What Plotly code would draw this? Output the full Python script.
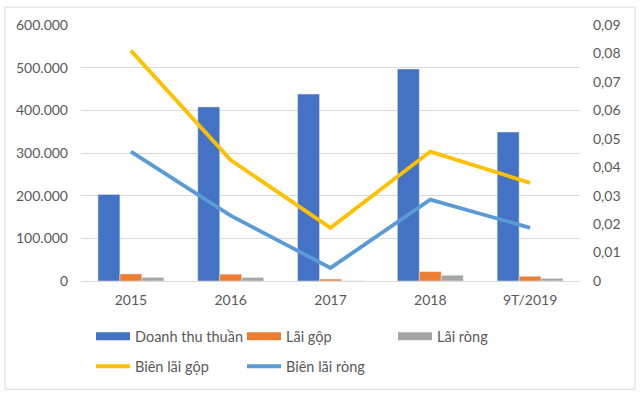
import plotly.graph_objects as go

categories = ["2015", "2016", "2017", "2018", "9T/2019"]
doanh_thu = [203000, 408000, 438000, 497000, 349000]
lai_gop = [16500, 16000, 4500, 22000, 11000]
lai_rong = [8500, 8000, 300, 13500, 6000]
bien_lai_gop = [0.0810, 0.0425, 0.0187, 0.0455, 0.0345]
bien_lai_rong = [0.0455, 0.0230, 0.0046, 0.0286, 0.0187]

left_ticks = [0, 100000, 200000, 300000, 400000, 500000, 600000]
right_ticks = [0, 0.01, 0.02, 0.03, 0.04, 0.05, 0.06, 0.07, 0.08, 0.09]
right_text = ["0", "0,01", "0,02", "0,03", "0,04", "0,05", "0,06", "0,07", "0,08", "0,09"]

bar_names = ["Doanh thu thuần", "Lãi gộp", "Lãi ròng"]
bar_colors = ["#4472C4", "#ED7D31", "#A5A5A5"]
line_names = ["Biên lãi gộp", "Biên lãi ròng"]
line_colors = ["#FFC000", "#5B9BD5"]

FONT = "Lato"
TXT = "#595959"

fig = go.Figure()
for name, vals, col in zip(bar_names, [doanh_thu, lai_gop, lai_rong], bar_colors):
    fig.add_bar(x=categories, y=vals, name=name, marker_color=col, showlegend=False)
# legend-only swatches for the bars (wide rectangles as in the original)
for name, col in zip(bar_names, bar_colors):
    fig.add_scatter(x=[None], y=[None], name=name, mode="lines",
                    line=dict(color=col, width=8), legend="legend")
for name, vals, col in zip(line_names, [bien_lai_gop, bien_lai_rong], line_colors):
    fig.add_scatter(x=categories, y=vals, name=name, mode="lines",
                    line=dict(color=col, width=3.8), yaxis="y2", legend="legend2")

L, R, T, B = 81, 60, 25, 112.5
W, H = 640, 394
pw = W - L - R
ph = H - T - B

def px_x(x):
    return (x - L) / pw

def px_y(y):
    return (H - B - y) / ph

leg_common = dict(orientation="h", xanchor="left", yanchor="middle",
                  entrywidth=102, entrywidthmode="pixels", itemwidth=34,
                  font=dict(size=14.5, color=TXT), bgcolor="rgba(0,0,0,0)",
                  traceorder="normal")

fig.update_layout(
    width=W, height=H,
    margin=dict(l=L, r=R, t=T, b=B),
    paper_bgcolor="white", plot_bgcolor="white",
    separators=",.",
    font=dict(family=FONT, size=14, color=TXT),
    barmode="group", bargap=0.34, bargroupgap=0,
    xaxis=dict(showgrid=False, showline=True, linecolor="#D9D9D9", linewidth=1,
               tickfont=dict(size=14, color=TXT), ticks="", ticklabelstandoff=6),
    yaxis=dict(range=[0, 600000], tickvals=left_ticks, tickformat=",d",
               showgrid=True, gridcolor="#D9D9D9", gridwidth=1, zeroline=False,
               showline=False, ticks="", ticklabelstandoff=12),
    yaxis2=dict(range=[0, 0.09], overlaying="y", side="right", tickvals=right_ticks,
                ticktext=right_text, showgrid=False, zeroline=False, showline=False,
                ticks="", ticklabelstandoff=12),
    legend=dict(x=px_x(91), y=px_y(337), **leg_common),
    legend2=dict(x=px_x(91), y=px_y(367), **leg_common),
    shapes=[dict(type="rect", xref="paper", yref="paper",
                 x0=px_x(5), x1=px_x(635), y0=px_y(390), y1=px_y(7),
                 line=dict(color="#D9D9D9", width=1), fillcolor="rgba(0,0,0,0)", layer="below")],
)

fig.write_html("out.html", config={"displayModeBar": False},
               post_script="document.body.style.margin='0';")
